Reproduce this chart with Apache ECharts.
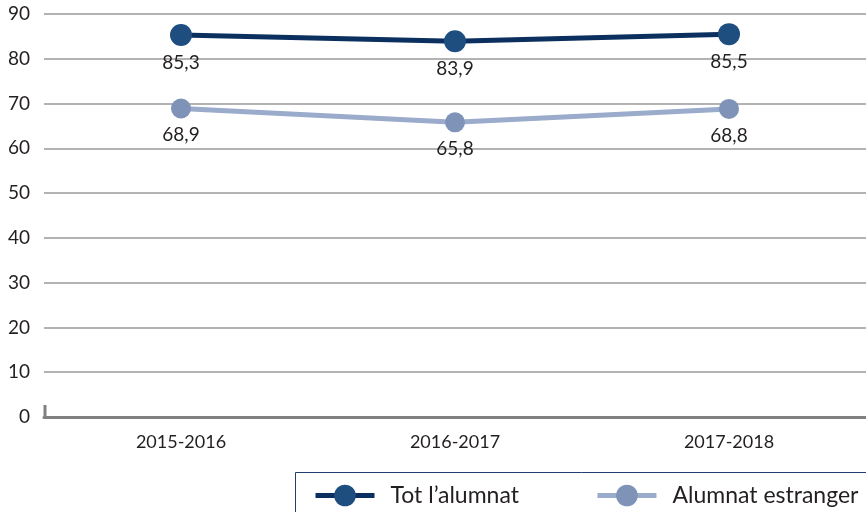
<!DOCTYPE html>
<html><head><meta charset="utf-8">
<script src="https://cdn.jsdelivr.net/npm/echarts@6/dist/echarts.min.js"></script>
<style>html,body{margin:0;padding:0;background:#fff}#c{width:866px;height:512px}</style>
</head><body><div id="c"></div>
<script>
const categories = ['2015-2016', '2016-2017', '2017-2018'];
const totAlumnat = [85.3, 83.9, 85.5];
const alumnatEstranger = [68.9, 65.8, 68.8];
const yTicks = [0, 10, 20, 30, 40, 50, 60, 70, 80, 90];

const FONT = 'Lato, "Open Sans", sans-serif';
const chart = echarts.init(document.getElementById('c'));
const fmt = p => String(p.value).replace('.', ',');
chart.setOption({
  animation: false,
  textStyle: { fontFamily: FONT },
  grid: { left: 44, right: 0, top: 14, bottom: 95, containLabel: false },
  xAxis: {
    type: 'category', data: categories, boundaryGap: true,
    axisLine: { lineStyle: { color: '#808080', width: 3 } },
    axisTick: { show: false },
    axisLabel: { color: '#231f20', fontSize: 18, margin: 16, fontFamily: FONT }
  },
  yAxis: {
    type: 'value', min: yTicks[0], max: yTicks[yTicks.length - 1], interval: 10,
    axisLine: { show: false }, axisTick: { show: false },
    axisLabel: { color: '#231f20', fontSize: 19, margin: 14, fontFamily: FONT },
    splitLine: { lineStyle: { color: '#9a9a9a', width: 1.5 } }
  },
  legend: {
    left: 313, top: 484, width: 553,
    padding: 0,
    itemWidth: 59, itemHeight: 27, itemGap: 76,
    textStyle: { color: '#231f20', fontSize: 23, fontFamily: FONT, padding: [0, 0, 0, 11] },
    data: [
      { name: 'Tot l’alumnat', lineStyle: { width: 5 } },
      { name: 'Alumnat estranger', lineStyle: { width: 5 } }
    ]
  },
  graphic: [{
    type: 'rect', shape: { x: 295.5, y: 472.5, width: 600, height: 60 },
    style: { fill: 'none', stroke: '#1f3f6e', lineWidth: 1 }, silent: true, z: -1
  }],
  series: [
    {
      name: 'Tot l’alumnat', type: 'line', data: totAlumnat,
      symbol: 'circle', symbolSize: 22,
      lineStyle: { color: '#0b2f5e', width: 5 },
      itemStyle: { color: '#1e4d80' },
      label: { show: true, position: 'bottom', distance: 7, formatter: fmt, color: '#231f20', fontSize: 19, fontFamily: FONT }
    },
    {
      name: 'Alumnat estranger', type: 'line', data: alumnatEstranger,
      symbol: 'circle', symbolSize: 20,
      lineStyle: { color: '#9aabcb', width: 5 },
      itemStyle: { color: '#7f93b8' },
      label: { show: true, position: 'bottom', distance: 7, formatter: fmt, color: '#231f20', fontSize: 19, fontFamily: FONT }
    }
  ]
});
// small corner tick at the left end of the baseline
const p0 = chart.convertToPixel({ gridIndex: 0 }, [0, 0]);
const left = 44;
chart.setOption({
  graphic: [{}, {
    type: 'line', shape: { x1: left + 1, y1: p0[1] - 12, x2: left + 1, y2: p0[1] },
    style: { stroke: '#808080', lineWidth: 3 }, silent: true
  }]
});
</script></body></html>
